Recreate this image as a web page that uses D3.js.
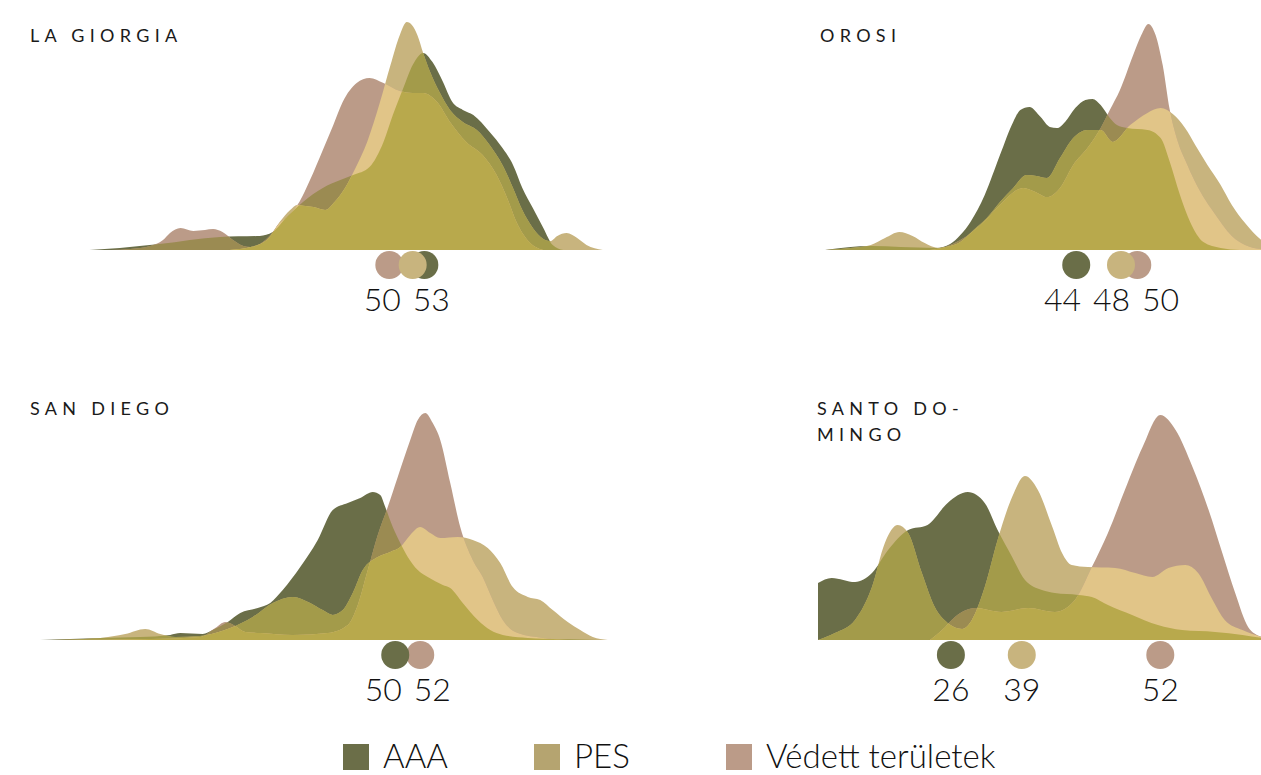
<!DOCTYPE html>
<html>
<head>
<meta charset="utf-8">
<script src="https://cdn.jsdelivr.net/npm/d3@7"></script>
<style>
  body { margin: 0; background: #fff; }
  svg { display: block; font-family: Lato, "Noto Sans", sans-serif; }
</style>
</head>
<body>
<div class="canva"></div>
<script>
// series
const seriesNames = ["AAA", "PES", "Védett területek"];
const seriesColors = ["#6a6e48", "#c8b47e", "#bb9b88"];
const legendColors = ["#6b6e48", "#b5a470", "#bb9b88"];
// colours where the areas overlap
const mixAP = "#a39b4a", mixAV = "#9b8b52", mixPV = "#e1c588", mixAll = "#b8a94c";

const regionNames = ["LA GIORGIA", "OROSI", "SAN DIEGO", "SANTO DO-\nMINGO"];

// density curves, [score, relative density]
const giorgiaAAA = [[24.3,0],[26.9,0.9],[30.3,2.6],[35.5,5.7],[38.9,6.1],[40.0,7.8],[41.2,14.3],[42.6,20.9],[44.3,27.0],[45.8,30.4],[46.9,32.6],[48.3,36.1],[49.5,47.0],[50.3,58.7],[51.2,70.4],[52.0,80.4],[52.9,85.7],[53.7,81.7],[54.6,73.0],[55.4,64.3],[56.3,60.9],[57.2,58.7],[58.6,51.3],[59.7,44.3],[60.6,37.0],[61.4,27.0],[62.3,18.3],[63.2,9.6],[64.0,2.2],[64.9,0]];
const giorgiaPES = [[36.3,0],[38.1,1.3],[39.5,4.3],[40.6,12.2],[41.5,17.4],[42.1,19.6],[42.8,19.1],[43.5,18.7],[44.5,17.4],[45.3,20.9],[46.2,27.0],[47.1,35.7],[48.1,47.0],[49.2,64.3],[50.1,80.4],[50.9,93.5],[51.5,99.1],[52.4,93.5],[52.9,85.7],[53.5,77.4],[54.3,68.7],[55.2,60.9],[56.3,55.7],[57.5,52.2],[58.6,45.7],[59.7,37.0],[60.6,27.0],[61.4,17.4],[62.3,9.6],[63.2,4.8],[63.8,3.9],[64.4,6.1],[65.2,7.4],[66.1,5.2],[66.9,2.2],[68.3,0]];
const giorgiaVED = [[26.1,0],[27.8,0.4],[29.5,1.7],[30.6,4.3],[31.2,7.4],[32.1,9.6],[33.2,8.3],[34.2,8.7],[34.9,9.1],[35.7,7.8],[36.6,4.3],[37.5,1.7],[38.1,1.3],[38.9,2.6],[39.8,6.5],[40.6,11.7],[41.5,15.7],[42.3,21.0],[43.2,30.4],[44.3,43.5],[45.2,54.3],[46.0,64.3],[47.2,72.6],[48.3,74.8],[49.5,72.6],[50.9,69.1],[52.0,68.3],[52.9,68.3],[54.1,64.3],[55.2,55.7],[56.6,47.0],[58.0,41.3],[59.2,32.6],[60.1,22.6],[60.9,12.2],[62.0,3.5],[63.2,0]];

const orosiAAA = [[19.3,0],[23.8,1.7],[26.7,1.3],[30.2,0.9],[31.6,2.6],[32.6,6.5],[33.6,12.2],[35.0,23.9],[36.5,41.3],[37.8,55.7],[38.5,60.9],[39.4,62.2],[40.5,57.8],[41.4,53.5],[42.1,53.0],[42.9,55.7],[43.9,61.7],[44.9,65.2],[45.6,65.7],[46.4,63.0],[47.3,57.4],[48.0,54.3],[49.0,53.0],[51.0,52.2],[52.3,48.7],[53.2,38.3],[54.2,23.9],[55.2,12.2],[56.5,3.5],[58.2,0.9],[60.1,0]];
const orosiPES = [[19.3,0],[21.8,0.9],[23.8,2.2],[25.2,5.2],[26.6,7.8],[27.9,6.1],[29.1,3.0],[30.4,0.9],[31.6,1.7],[32.6,3.5],[33.9,8.7],[35.2,13.9],[36.5,20.9],[37.8,27.0],[39.1,32.6],[40.1,32.2],[41.1,31.3],[42.4,40.0],[43.7,48.7],[45.1,52.2],[46.4,52.2],[47.6,47.0],[49.3,54.3],[51.0,59.6],[52.3,61.7],[53.5,59.1],[54.7,53.0],[55.7,45.7],[56.9,37.0],[58.2,28.3],[59.3,19.6],[60.6,11.7],[62.2,4.3],[64.1,0]];
const orosiVED = [[29.6,0],[31.1,1.3],[32.6,4.3],[34.9,12.2],[36.5,19.6],[38.8,27.0],[40.0,25.2],[41.1,23.0],[42.4,27.0],[43.7,37.0],[45.1,44.3],[46.4,53.0],[47.3,60.9],[48.3,69.6],[49.6,84.8],[50.4,93.5],[51.1,98.3],[51.8,93.5],[52.5,80.4],[53.2,60.9],[54.0,47.0],[54.8,38.3],[55.7,29.6],[56.7,21.7],[57.5,16.5],[58.4,10.9],[59.3,6.1],[60.6,2.2],[62.1,0.4],[63.6,0]];

const sanDiegoAAA = [[21.6,0],[26.4,0.9],[29.6,1.3],[32.0,2.2],[32.8,3.0],[34.6,2.6],[35.4,4.3],[36.6,7.8],[37.6,11.7],[39.0,13.9],[40.0,16.1],[41.0,21.7],[42.4,31.7],[43.8,43.5],[45.0,56.5],[46.2,59.6],[47.2,61.7],[48.2,64.3],[48.8,63.0],[49.2,57.8],[49.8,49.1],[50.4,42.2],[51.0,36.1],[51.8,30.4],[52.6,27.4],[53.8,23.9],[54.4,22.6],[55.4,16.1],[56.6,8.7],[57.6,4.3],[58.6,2.2],[60.6,0.9],[63.2,0.4],[66.4,0]];
const sanDiegoPES = [[22.4,0],[26.4,0.9],[28.4,2.6],[30.0,4.8],[31.2,2.6],[32.4,1.3],[34.4,1.7],[35.6,3.0],[36.8,5.2],[38.6,10.0],[40.2,16.1],[41.8,18.7],[43.2,16.1],[44.2,13.0],[45.0,10.9],[45.8,13.0],[46.6,20.4],[47.4,30.4],[48.6,36.1],[49.6,38.3],[50.4,40.4],[51.2,45.7],[52.0,49.1],[52.8,46.5],[53.6,44.3],[55.0,44.8],[56.2,43.5],[57.4,40.0],[58.4,33.5],[59.4,23.0],[60.6,18.7],[61.6,17.4],[62.6,13.0],[63.8,7.8],[64.8,4.3],[65.8,1.3],[67.0,0]];
const sanDiegoVED = [[23.2,0],[30.4,0.4],[34.4,1.3],[35.6,5.2],[36.4,7.8],[37.2,6.1],[38.0,3.5],[39.2,3.0],[41.8,2.2],[44.6,3.0],[46.2,6.5],[47.0,15.2],[47.8,30.4],[48.6,45.7],[49.4,57.8],[50.2,70.9],[51.2,87.0],[51.8,95.7],[52.4,98.7],[53.0,94.3],[53.6,87.0],[54.4,68.3],[55.2,49.1],[56.2,34.8],[57.0,27.4],[57.8,17.4],[58.6,8.7],[59.8,3.0],[61.8,0.9],[64.0,0]];

const santoDomingoAAA = [[9.5,24.8],[11.2,27.0],[14.1,25.2],[16.2,29.1],[18.2,39.1],[20.7,47.8],[23.1,50.0],[25.6,59.6],[28.1,64.3],[30.2,59.6],[31.8,47.8],[33.6,36.1],[35.2,26.1],[37.3,21.7],[38.9,20.4],[41.8,19.6],[43.5,18.7],[45.5,15.2],[48.5,10.9],[51.7,6.5],[54.7,4.3],[58.8,3.5],[62.2,2.2],[64.6,0.9],[66.3,0]];
const santoDomingoPES = [[9.5,0],[11.6,3.0],[14.1,8.7],[16.2,23.0],[17.8,42.2],[19.4,50.0],[20.7,46.5],[22.4,29.1],[24.0,14.3],[25.6,7.4],[27.4,4.8],[28.6,8.7],[30.2,23.0],[31.8,43.5],[33.6,62.2],[35.2,71.3],[36.8,65.2],[38.6,49.1],[39.8,37.8],[41.0,32.6],[43.0,31.7],[46.4,31.3],[48.9,29.1],[51.0,27.4],[53.0,31.3],[55.1,32.6],[56.7,29.1],[58.5,17.4],[60.0,8.7],[62.2,4.3],[64.6,1.3],[66.3,0]];
const santoDomingoVED = [[23.4,0],[24.9,4.3],[26.5,10.0],[29.0,13.9],[32.3,12.2],[35.6,13.9],[38.9,12.2],[41.4,17.4],[43.5,31.7],[45.5,46.5],[47.6,65.2],[49.8,83.9],[52.0,97.8],[53.9,91.3],[56.0,75.2],[58.0,56.5],[59.7,37.8],[61.3,20.4],[62.9,5.7],[64.6,1.3],[66.3,0]];

// dot positions (score) and their labels, order AAA, PES, Védett
const giorgiaDots = [53.0, 52.0, 50.0];
const giorgiaLabels = ["53", null, "50"];
const orosiDots = [44.0, 48.4, 50.0];
const orosiLabels = ["44", "48", "50"];
const sanDiegoDots = [50.0, null, 52.0];
const sanDiegoLabels = ["50", null, "52"];
const santoDomingoDots = [26.0, 34.8, 52.0];
const santoDomingoLabels = ["26", "39", "52"];

// score domains for each panel
const giorgiaDomain = [24, 69];
const orosiDomain = [19, 72];
const sanDiegoDomain = [21.5, 67.5];
const santoDomingoDomain = [9.5, 65];

const width = 1261, height = 775;

const panels = [
  {name: regionNames[0], series: [giorgiaAAA, giorgiaPES, giorgiaVED], dots: giorgiaDots, labels: giorgiaLabels,
   domain: giorgiaDomain, range: [86, 611], base: 250, tx: 30, ty: 42},
  {name: regionNames[1], series: [orosiAAA, orosiPES, orosiVED], dots: orosiDots, labels: orosiLabels,
   domain: orosiDomain, range: [822, 1361], base: 250, tx: 820, ty: 42},
  {name: regionNames[2], series: [sanDiegoAAA, sanDiegoPES, sanDiegoVED], dots: sanDiegoDots, labels: sanDiegoLabels,
   domain: sanDiegoDomain, range: [39, 614], base: 640, tx: 30, ty: 415},
  {name: regionNames[3], series: [santoDomingoAAA, santoDomingoPES, santoDomingoVED], dots: santoDomingoDots, labels: santoDomingoLabels,
   domain: santoDomingoDomain, range: [818, 1265], base: 640, tx: 817, ty: 415}
];

const svg = d3.select(".canva").append("svg")
  .attr("width", width)
  .attr("height", height);

svg.append("rect").attr("width", width).attr("height", height).attr("fill", "#fff");

const defs = svg.append("defs");

panels.forEach((p, pi) => {
  const x = d3.scaleLinear().domain(p.domain).range(p.range);
  const y = d3.scaleLinear().domain([0, 100]).range([p.base, p.base - 230]);
  const area = d3.area()
    .x(d => x(d[0]))
    .y0(p.base)
    .y1(d => y(d[1]))
    .curve(d3.curveMonotoneX);

  const paths = p.series.map(s => area(s));
  const ids = ["a", "p", "v"].map(k => "clip-" + pi + "-" + k);
  paths.forEach((d, i) => {
    defs.append("clipPath").attr("id", ids[i]).append("path").attr("d", d);
  });

  const g = svg.append("g");

  // single series
  paths.forEach((d, i) => {
    g.append("path").attr("d", d).attr("fill", seriesColors[i]);
  });
  // two-way overlaps
  g.append("path").attr("d", paths[1]).attr("fill", mixAP).attr("clip-path", `url(#${ids[0]})`);
  g.append("path").attr("d", paths[2]).attr("fill", mixAV).attr("clip-path", `url(#${ids[0]})`);
  g.append("path").attr("d", paths[2]).attr("fill", mixPV).attr("clip-path", `url(#${ids[1]})`);
  // all three
  g.append("g").attr("clip-path", `url(#${ids[0]})`)
    .append("path").attr("d", paths[2]).attr("fill", mixAll).attr("clip-path", `url(#${ids[1]})`);

  // title
  const lines = p.name.split("\n");
  const t = svg.append("text")
    .attr("x", p.tx).attr("y", p.ty)
    .attr("font-size", 18)
    .attr("font-weight", 400)
    .attr("letter-spacing", "5.3px")
    .attr("fill", "#1a1a1a");
  lines.forEach((l, i) => {
    t.append("tspan").attr("x", p.tx).attr("dy", i === 0 ? 0 : 26).text(l);
  });

  // dots: Védett, AAA, PES on top
  const dotY = p.base + 15;
  [2, 0, 1].forEach(i => {
    if (p.dots[i] == null) return;
    svg.append("circle")
      .attr("cx", x(p.dots[i]))
      .attr("cy", dotY)
      .attr("r", 14)
      .attr("fill", seriesColors[i]);
  });

  // labels, pushed apart when they collide
  const lab = [];
  p.labels.forEach((l, i) => {
    if (l != null) lab.push({text: l, x: x(p.dots[i])});
  });
  lab.sort((a, b) => a.x - b.x);
  const gap = 49;
  for (let k = 0; k < 100; k++) {
    for (let i = 1; i < lab.length; i++) {
      const d = lab[i].x - lab[i - 1].x;
      if (d < gap) {
        const m = (gap - d) / 2;
        lab[i].x += m;
        lab[i - 1].x -= m;
      }
    }
  }
  lab.forEach(l => {
    svg.append("text")
      .text(l.text)
      .attr("x", l.x)
      .attr("y", p.base + 61)
      .attr("text-anchor", "middle")
      .attr("font-size", 32)
      .attr("font-weight", 300)
      .attr("fill", "#111");
  });
});

// legend
const legendX = [343, 534, 726];
seriesNames.forEach((n, i) => {
  svg.append("rect")
    .attr("x", legendX[i]).attr("y", 744)
    .attr("width", 26).attr("height", 26)
    .attr("fill", legendColors[i]);
  svg.append("text")
    .text(n)
    .attr("x", legendX[i] + 40)
    .attr("y", 768)
    .attr("font-size", 33)
    .attr("font-weight", 300)
    .attr("fill", "#111");
});
</script>
</body>
</html>
